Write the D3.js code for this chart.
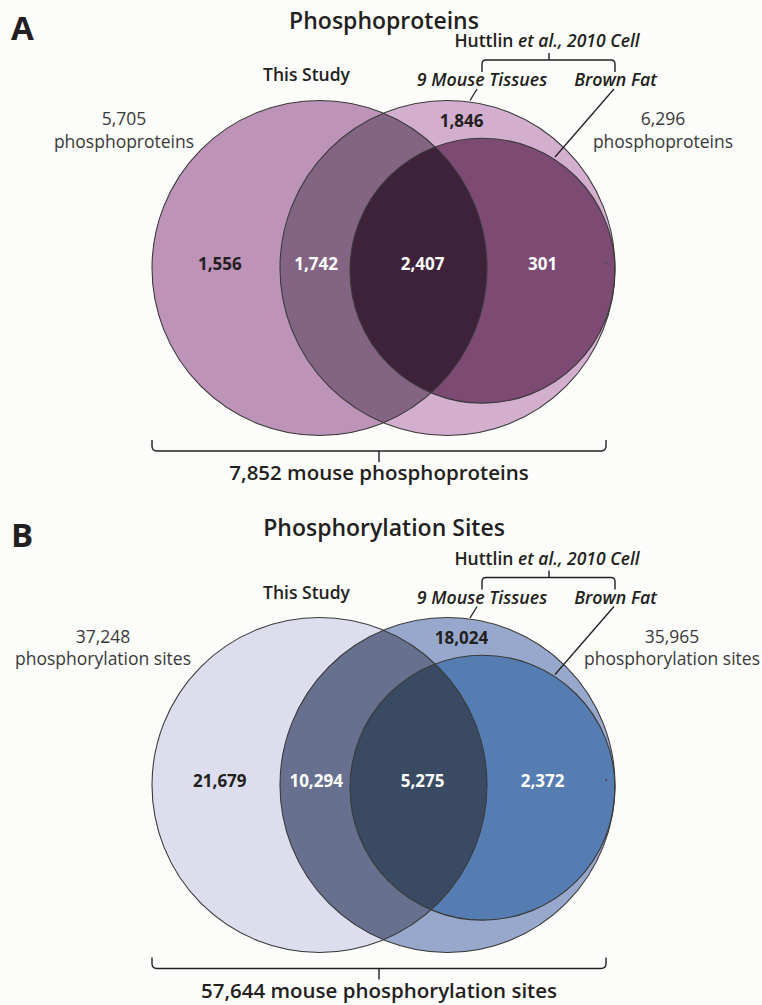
<!DOCTYPE html>
<html>
<head>
<meta charset="utf-8">
<script src="https://cdn.jsdelivr.net/npm/d3@7"></script>
<style>
  html, body { margin: 0; padding: 0; background: #fcfcfa; }
  svg { display: block; font-family: "Open Sans", "Noto Sans", sans-serif; }
</style>
</head>
<body>
<svg id="chart" width="762" height="1005"></svg>
<script>
// ---- data ---------------------------------------------------------------
const setNames = ["This Study", "9 Mouse Tissues", "Brown Fat"];
const citationAuthor = "Huttlin";
const citationRest = "et al., 2010 Cell";

// Region order: this study only, this study ∩ tissues, all three,
//               brown fat ∩ tissues only, tissues only
const proteinTitle = "Phosphoproteins";
const proteinRegions = [1556, 1742, 2407, 301, 1846];
const proteinTotals = [5705, 6296];          // this study, Huttlin et al.
const proteinUnit = "phosphoproteins";
const proteinUnion = 7852;
const proteinUnionLabel = "mouse phosphoproteins";

const siteTitle = "Phosphorylation Sites";
const siteRegions = [21679, 10294, 5275, 2372, 18024];
const siteTotals = [37248, 35965];
const siteUnit = "phosphorylation sites";
const siteUnion = 57644;
const siteUnionLabel = "mouse phosphorylation sites";

// ---- layout (unit space: radius of the "This Study" circle = 1) --------
const circles = [
  { cx: 0,     cy: 0,     r: 1 },      // This Study
  { cx: 0.764, cy: 0,     r: 1 },      // 9 Mouse Tissues
  { cx: 0.973, cy: 0.016, r: 0.791 }   // Brown Fat
];
// label anchor points for each region (unit space, baseline)
const regionLabelPos = [
  { x: -0.595, y: 0.012 },
  { x: -0.020, y: 0.012 },
  { x: 0.615,  y: 0.012 },
  { x: 1.332,  y: 0.012 },
  { x: 0.848,  y: -0.840 }
];
const regionLabelLight = [false, true, true, true, false];

const palettes = {
  protein: { left: "#bd93b8", right: "#d3aecf", lr: "#836483", all: "#3d2239", bf: "#7c4a73" },
  site:    { left: "#dcdeee", right: "#98a8cd", lr: "#67718f", all: "#3a4a63", bf: "#567db1" }
};

const fmt = d3.format(",");
const svg = d3.select("#chart");
const ink = "#231f20";
const soft = "#3a3a3a";

function bracketDown(ctx, x0, x1, y, legY, tickX, tickY, rad) {
  // horizontal brace with legs pointing down (above the set names)
  ctx.moveTo(x0, legY);
  ctx.lineTo(x0, y + rad);
  ctx.quadraticCurveTo(x0, y, x0 + rad, y);
  ctx.lineTo(x1 - rad, y);
  ctx.quadraticCurveTo(x1, y, x1, y + rad);
  ctx.lineTo(x1, legY);
  ctx.moveTo(tickX, y);
  ctx.lineTo(tickX, tickY);
}
function bracketUp(ctx, x0, x1, y, legY, tickX, tickY, rad) {
  // horizontal brace with legs pointing up (under the diagram)
  ctx.moveTo(x0, legY);
  ctx.lineTo(x0, y - rad);
  ctx.quadraticCurveTo(x0, y, x0 + rad, y);
  ctx.lineTo(x1 - rad, y);
  ctx.quadraticCurveTo(x1, y, x1, y - rad);
  ctx.lineTo(x1, legY);
  ctx.moveTo(tickX, y);
  ctx.lineTo(tickX, tickY);
}

function drawPanel(cfg) {
  const g = svg.append("g").attr("class", "panel-" + cfg.id);
  const dy = cfg.dy;
  const pal = palettes[cfg.id];

  const x = d3.scaleLinear().domain([-1, 1.764]).range([152, 615]);
  const y = d3.scaleLinear().domain([-1, 1]).range([cfg.cy - 167.5, cfg.cy + 167.5]);
  const rs = d3.scaleLinear().domain([0, 1]).range([0, 167.5]);

  const defs = g.append("defs");
  circles.forEach((c, i) => {
    defs.append("clipPath").attr("id", `clip-${cfg.id}-${i}`)
      .append("circle").attr("cx", x(c.cx)).attr("cy", y(c.cy)).attr("r", rs(c.r));
  });

  const circ = (sel, c) => sel.attr("cx", x(c.cx)).attr("cy", y(c.cy)).attr("r", rs(c.r));

  // filled regions
  circ(g.append("circle"), circles[0]).attr("fill", pal.left);
  circ(g.append("circle"), circles[1]).attr("fill", pal.right);
  circ(g.append("circle"), circles[1]).attr("fill", pal.lr).attr("clip-path", `url(#clip-${cfg.id}-0)`);
  circ(g.append("circle"), circles[2]).attr("fill", pal.bf);
  circ(g.append("circle"), circles[2]).attr("fill", pal.all).attr("clip-path", `url(#clip-${cfg.id}-0)`);

  // outlines
  g.append("g").selectAll("circle").data(circles).join("circle")
    .attr("cx", d => x(d.cx)).attr("cy", d => y(d.cy)).attr("r", d => rs(d.r))
    .attr("fill", "none").attr("stroke", soft).attr("stroke-width", 1.1);

  // small speck on the right rim
  g.append("circle").attr("cx", x(1.712)).attr("cy", y(-0.03)).attr("r", 1).attr("fill", "#444");

  // region counts
  g.append("g").selectAll("text").data(cfg.regions).join("text")
    .attr("x", (d, i) => x(regionLabelPos[i].x))
    .attr("y", (d, i) => y(regionLabelPos[i].y))
    .attr("text-anchor", "middle")
    .attr("font-size", 17).attr("font-weight", 700)
    .attr("fill", (d, i) => regionLabelLight[i] ? "#ffffff" : ink)
    .text(d => fmt(d));

  // panel letter and title
  g.append("text").attr("x", 11).attr("y", cfg.letterY)
    .attr("font-size", 33).attr("font-weight", 700).attr("fill", ink).text(cfg.letter);
  g.append("text").attr("x", 384).attr("y", cfg.titleY).attr("text-anchor", "middle")
    .attr("font-size", 23).attr("font-weight", 600).attr("fill", ink).text(cfg.title);

  // citation and its brace
  const cit = g.append("text").attr("x", 547).attr("y", 47 + dy).attr("text-anchor", "middle")
    .attr("font-size", 17.5).attr("font-weight", 600).attr("fill", ink);
  cit.append("tspan").text(citationAuthor + " ");
  cit.append("tspan").attr("font-style", "italic").text(citationRest);

  const p = d3.path();
  bracketDown(p, 482, 615, 60 + dy, 72 + dy, 549, 53 + dy, 4);
  g.append("path").attr("d", p.toString()).attr("fill", "none")
    .attr("stroke", ink).attr("stroke-width", 1.4);

  // set names
  g.append("text").attr("x", 306.5).attr("y", 81 + dy).attr("text-anchor", "middle")
    .attr("font-size", 17.5).attr("font-weight", 600).attr("fill", ink).text(setNames[0]);
  g.append("text").attr("x", 482).attr("y", 86 + dy).attr("text-anchor", "middle")
    .attr("font-size", 17.8).attr("font-weight", 600).attr("font-style", "italic").attr("fill", ink).text(setNames[1]);
  g.append("text").attr("x", 615.5).attr("y", 86 + dy).attr("text-anchor", "middle")
    .attr("font-size", 17.8).attr("font-weight", 600).attr("font-style", "italic").attr("fill", ink).text(setNames[2]);

  // leader lines from set names to their circles
  const leaders = [
    [[477, 89 + dy], [470, 100.5 + dy]],
    [[614, 89 + dy], [555, 157 + dy]]
  ];
  g.append("g").selectAll("path").data(leaders).join("path")
    .attr("d", d3.line())
    .attr("fill", "none").attr("stroke", ink).attr("stroke-width", 1.3);

  // set totals
  const totals = [
    { v: cfg.totals[0], cx: cfg.totalX[0] },
    { v: cfg.totals[1], cx: cfg.totalX[1] }
  ];
  const tg = g.append("g").selectAll("text").data(totals).join("text")
    .attr("text-anchor", "middle").attr("font-size", 17.5).attr("fill", soft);
  tg.append("tspan").attr("x", d => d.cx).attr("y", 125 + dy).text(d => fmt(d.v));
  tg.append("tspan").attr("x", d => d.cx).attr("y", 147.5 + dy).text(cfg.unit);

  // union brace and total
  const q = d3.path();
  bracketUp(q, 152, 606, 451 + dy, 440 + dy, 379, 462 + dy, 5);
  g.append("path").attr("d", q.toString()).attr("fill", "none")
    .attr("stroke", ink).attr("stroke-width", 1.4);
  g.append("text").attr("x", 379).attr("y", 480 + dy).attr("text-anchor", "middle")
    .attr("font-size", 20.5).attr("font-weight", 600).attr("fill", ink)
    .text(fmt(cfg.union) + " " + cfg.unionLabel);
}

drawPanel({
  id: "protein", letter: "A", title: proteinTitle, dy: 0, cy: 268,
  letterY: 40, titleY: 29,
  regions: proteinRegions, totals: proteinTotals, totalX: [124, 663],
  unit: proteinUnit, union: proteinUnion, unionLabel: proteinUnionLabel
});
drawPanel({
  id: "site", letter: "B", title: siteTitle, dy: 517.5, cy: 785,
  letterY: 547, titleY: 536,
  regions: siteRegions, totals: siteTotals, totalX: [103, 672],
  unit: siteUnit, union: siteUnion, unionLabel: siteUnionLabel
});
</script>
</body>
</html>
